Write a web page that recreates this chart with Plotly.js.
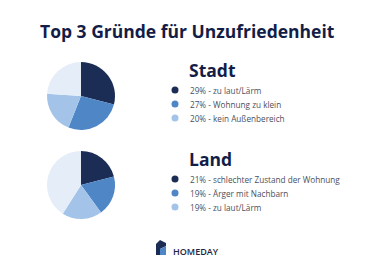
<!DOCTYPE html>
<html><head><meta charset="utf-8">
<script src="https://cdn.plot.ly/plotly-3.0.1.min.js"></script>
<style>html,body{margin:0;padding:0;background:#fff}#c{width:375px;height:273px}</style>
</head><body><div id="c"></div>
<script>
const chartTitle = "Top 3 Gründe für Unzufriedenheit";
const groups = ["Stadt", "Land"];
const stadtLabels = ["zu laut/Lärm", "Wohnung zu klein", "kein Außenbereich", "Sonstige"];
const stadtValues = [29, 27, 20, 24];
const landLabels = ["schlechter Zustand der Wohnung", "Ärger mit Nachbarn", "zu laut/Lärm", "Sonstige"];
const landValues = [21, 19, 19, 41];
const sliceColors = ["#1c2d55", "#4f86c6", "#a3c4e8", "#e4edf8"];
const brand = "HOMEDAY";

const W = 375, H = 273;
const navy = "#131d47";
const pieCenters = [[81, 96], [81, 185]];
const R = 34;
const legendX = 188, dotX = 175;
const headY = [70, 159];
const firstRowY = [90, 179];
const rowGap = 14;

const data = [];
const annotations = [];
const dots = {x: [], y: [], c: []};
[[stadtLabels, stadtValues], [landLabels, landValues]].forEach(([labels, values], g) => {
  const [cx, cy] = pieCenters[g];
  data.push({
    type: "pie", labels: labels, values: values, sort: false, direction: "clockwise",
    rotation: 0, textinfo: "none", hoverinfo: "skip", showlegend: false,
    marker: {colors: sliceColors, line: {width: 0}},
    domain: {x: [(cx - R) / W, (cx + R) / W], y: [1 - (cy + R) / H, 1 - (cy - R) / H]}
  });
  annotations.push({text: "<b>" + groups[g] + "</b>", x: legendX - 1, y: headY[g], xref: "x", yref: "y",
    xanchor: "left", yanchor: "middle", showarrow: false, font: {family: "Open Sans", size: 17.5, color: navy}});
  for (let i = 0; i < 3; i++) {
    const y = firstRowY[g] + i * rowGap;
    dots.x.push(dotX); dots.y.push(y); dots.c.push(sliceColors[i]);
    annotations.push({text: values[i] + "% - " + labels[i], x: legendX, y: y, xref: "x", yref: "y",
      xanchor: "left", yanchor: "middle", showarrow: false, font: {family: "Open Sans", size: 8.2, color: "#4a4f5c"}});
  }
});
data.push({type: "scatter", mode: "markers", x: dots.x, y: dots.y, hoverinfo: "skip", showlegend: false,
  marker: {size: 7, color: dots.c, line: {width: 0}}});

annotations.push({text: "<b>" + chartTitle + "</b>", x: 187.5, y: 31, xref: "x", yref: "y",
  xanchor: "center", yanchor: "middle", showarrow: false, font: {family: "Open Sans", size: 17.5, color: navy}});
annotations.push({text: brand, x: 171, y: 251, xref: "x", yref: "y",
  xanchor: "left", yanchor: "middle", showarrow: false, font: {family: "Open Sans", size: 9, color: "#1c2540", weight: 600}});

const shapes = [
  {type: "path", xref: "x", yref: "y", path: "M156,244 L160,240 L166,243 L166,246 L160,249 L160,255 L156,255 Z", fillcolor: "#1c2d55", line: {width: 0}},
  {type: "path", xref: "x", yref: "y", path: "M160,249 L166,246 L166,255 L160,255 Z", fillcolor: "#4f86c6", line: {width: 0}}
];

Plotly.newPlot("c", data, {
  width: W, height: H, margin: {l: 0, r: 0, t: 0, b: 0},
  paper_bgcolor: "#fff", plot_bgcolor: "rgba(0,0,0,0)",
  xaxis: {range: [0, W], visible: false, fixedrange: true},
  yaxis: {range: [H, 0], visible: false, fixedrange: true},
  annotations: annotations, shapes: shapes, showlegend: false
}, {staticPlot: true});
</script></body></html>
